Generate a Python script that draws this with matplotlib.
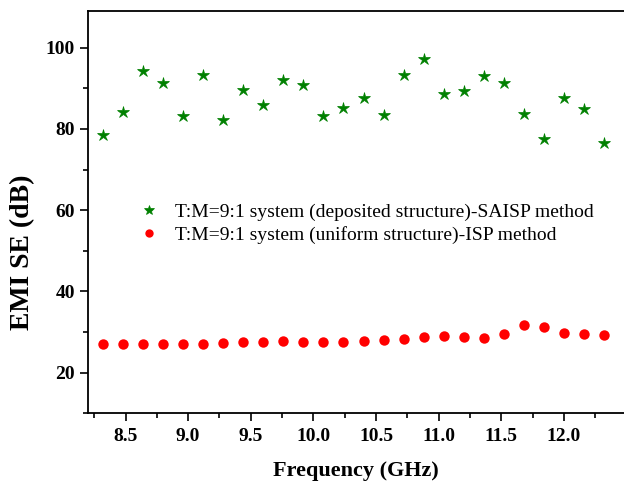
import matplotlib.pyplot as plt
from matplotlib.ticker import MultipleLocator

plt.rcParams['font.family'] = ['Liberation Serif', 'DejaVu Serif']

# frequency points (GHz)
freq = [8.32, 8.48, 8.64, 8.80, 8.96, 9.12, 9.28, 9.44, 9.60, 9.76, 9.92, 10.08, 10.24,
        10.40, 10.56, 10.72, 10.88, 11.04, 11.20, 11.36, 11.52, 11.68, 11.84, 12.00, 12.16, 12.32]

# T:M=9:1 deposited structure, SAISP method
se_saisp = [78.4, 84.2, 94.3, 91.2, 83.1, 93.3, 82.2, 89.6, 85.8, 92.1, 90.9, 83.1, 85.1,
            87.6, 83.5, 93.3, 97.3, 88.7, 89.4, 93.0, 91.2, 83.7, 77.5, 87.5, 85.0, 76.6]

# T:M=9:1 uniform structure, ISP method
se_isp = [27.0, 27.0, 27.0, 27.0, 27.0, 27.1, 27.2, 27.4, 27.6, 27.8, 27.6, 27.4, 27.6,
          27.8, 27.9, 28.2, 28.8, 28.9, 28.7, 28.6, 29.4, 31.6, 31.2, 29.7, 29.4, 29.3]

labels = ['T:M=9:1 system (deposited structure)-SAISP method',
          'T:M=9:1 system (uniform structure)-ISP method']

fig = plt.figure(figsize=(6.24, 4.86), dpi=100)
ax = fig.add_axes([0.141, 0.150, 0.859, 0.827])

ax.plot(freq, se_saisp, linestyle='none', marker='*', markersize=9,
        color='#008000', markeredgewidth=0.5, label=labels[0])
ax.plot(freq, se_isp, linestyle='none', marker='o', markersize=7.5,
        color='#ff0000', markeredgewidth=0, label=labels[1])

ax.set_xlim(8.2, 12.48)
ax.set_ylim(10, 109)
ax.xaxis.set_major_locator(MultipleLocator(0.5))
ax.xaxis.set_minor_locator(MultipleLocator(0.25))
ax.yaxis.set_major_locator(MultipleLocator(20))
ax.yaxis.set_minor_locator(MultipleLocator(10))

ax.spines['right'].set_visible(False)
for s in ['left', 'bottom', 'top']:
    ax.spines[s].set_linewidth(1.3)
ax.tick_params(which='major', direction='out', length=6, width=1.2, labelsize=14)
ax.tick_params(axis='x', which='major', pad=5)
ax.tick_params(which='minor', direction='out', length=3.5, width=1.2)
ax.tick_params(top=False, right=False)
for t in ax.get_xticklabels() + ax.get_yticklabels():
    t.set_fontweight('bold')

ax.set_xlabel('Frequency (GHz)', fontsize=16, fontweight='bold', labelpad=11)
ax.set_ylabel('EMI SE (dB)', fontsize=20, fontweight='bold')
ax.yaxis.set_label_coords(-0.099, 0.40)

ax.legend(loc='center left', bbox_to_anchor=(0.068, 0.472), frameon=False,
          fontsize=14, numpoints=1, markerscale=0.8, handlelength=1.5,
          handletextpad=0.6, labelspacing=0.25, borderpad=0)

fig.savefig('out.png', dpi=100)
